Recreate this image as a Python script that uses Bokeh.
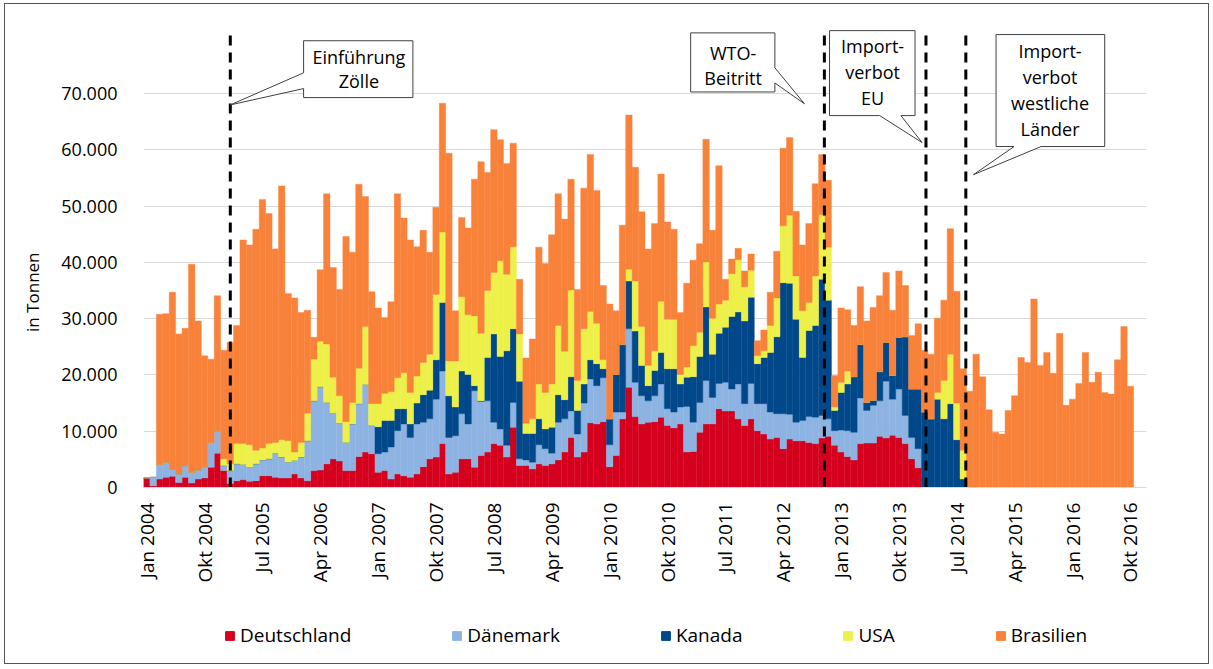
import math
from bokeh.plotting import figure
from bokeh.layouts import column
from bokeh.models import (Range1d, FixedTicker, Legend, LegendItem, ColumnDataSource)
from bokeh.core.properties import value
from bokeh.embed import file_html
from bokeh.resources import INLINE

FONT = "Open Sans"

# ---------------- data (thousand tonnes per month, Jan 2004 .. Okt 2016) ----------------
series_names = ["Deutschland", "Dänemark", "Kanada", "USA", "Brasilien"]
series_colors = ["#d5001e", "#8db3e2", "#00488a", "#eef04a", "#f9823a"]

deutschland = [
    1.7, 0.3, 1.5, 1.8, 2.0, 0.9, 1.8, 0.8, 1.5, 1.7,
    3.6, 6.1, 3.0, 0.7, 1.2, 1.4, 1.1, 1.2, 2.1, 2.1,
    1.8, 1.7, 1.7, 2.4, 1.7, 1.2, 3.0, 3.1, 4.2, 5.1,
    4.7, 3.0, 3.0, 5.5, 6.3, 6.0, 2.7, 3.0, 1.5, 2.4,
    2.1, 1.8, 2.4, 3.7, 5.1, 5.4, 7.8, 2.4, 2.7, 5.1,
    5.1, 3.6, 5.7, 6.3, 7.8, 7.5, 5.4, 10.7, 3.9, 3.9,
    3.3, 4.2, 3.9, 4.2, 4.9, 6.3, 8.9, 5.4, 6.3, 11.5,
    11.3, 11.7, 3.7, 5.7, 12.2, 17.8, 12.6, 11.3, 11.6, 11.7,
    12.5, 11.0, 10.6, 11.3, 6.3, 6.4, 9.8, 11.3, 11.3, 14.0,
    13.6, 13.6, 12.2, 11.0, 12.2, 10.1, 9.5, 8.6, 8.9, 6.9,
    8.6, 8.3, 8.3, 8.0, 7.8, 8.8, 9.1, 7.5, 6.3, 5.5,
    4.9, 7.8, 7.9, 7.9, 9.1, 8.8, 9.3, 8.9, 7.8, 5.1,
    3.5, 0, 0, 0, 0, 0, 0, 0, 0, 0,
    0, 0, 0, 0, 0, 0, 0, 0, 0, 0,
    0, 0, 0, 0, 0, 0, 0, 0, 0, 0,
    0, 0, 0, 0,
]
daenemark = [
    0, 1.5, 2.6, 2.7, 1.2, 1.5, 2.1, 1.9, 1.6, 2.0,
    4.4, 4.0, 0.9, 2.3, 3.0, 2.7, 2.5, 3.0, 2.8, 3.0,
    4.3, 3.7, 2.8, 2.4, 3.7, 7.1, 12.4, 14.8, 10.9, 8.1,
    6.7, 5.0, 8.3, 9.4, 12.0, 5.0, 3.3, 3.3, 5.7, 7.7,
    9.2, 7.1, 8.9, 7.9, 7.1, 10.3, 12.9, 6.5, 6.5, 8.0,
    6.2, 13.6, 9.6, 9.1, 3.8, 2.9, 2.1, 4.4, 1.2, 1.0,
    1.2, 3.4, 3.0, 1.9, 6.7, 5.9, 4.7, 4.1, 8.7, 7.8,
    6.8, 7.8, 3.9, 7.7, 1.2, 10.4, 6.1, 5.0, 3.8, 4.6,
    5.9, 3.0, 2.8, 3.0, 8.1, 5.2, 5.3, 7.7, 4.7, 4.5,
    5.1, 3.9, 6.2, 3.9, 6.3, 4.8, 5.4, 4.8, 4.2, 6.2,
    4.4, 3.3, 3.6, 4.6, 4.7, 4.0, 3.1, 2.6, 3.9, 4.6,
    4.9, 8.1, 5.8, 6.7, 6.3, 10.1, 6.4, 8.6, 5.0, 3.8,
    3.4, 0, 0, 0, 0, 0, 0, 0, 0, 0,
    0, 0, 0, 0, 0, 0, 0, 0, 0, 0,
    0, 0, 0, 0, 0, 0, 0, 0, 0, 0,
    0, 0, 0, 0,
]
kanada = [
    0, 0, 0, 0, 0, 0, 0, 0, 0, 0,
    0, 0, 0, 0, 0, 0, 0, 0, 0, 0,
    0, 0, 0, 0, 0, 0, 0, 0, 0, 0,
    0, 0, 0, 0, 0, 0, 4.8, 5.6, 4.7, 3.9,
    2.7, 2.4, 3.7, 4.9, 5.1, 7.0, 12.2, 7.4, 5.1, 7.6,
    8.8, 0.9, 0.1, 7.7, 15.7, 12.9, 16.8, 13.1, 13.8, 4.7,
    5.1, 4.6, 3.5, 4.6, 4.9, 3.4, 6.1, 4.2, 3.4, 3.4,
    3.9, 1.6, 4.6, 6.7, 12.0, 8.5, 9.1, 5.4, 2.7, 4.5,
    5.6, 7.1, 7.7, 4.1, 5.2, 8.1, 8.2, 13.1, 7.7, 8.9,
    9.8, 12.9, 12.8, 14.7, 15.3, 7.1, 8.2, 10.6, 13.7, 23.3,
    23.3, 18.3, 11.2, 15.3, 16.3, 24.2, 21.1, 3.6, 6.7, 8.3,
    9.9, 9.5, 1.4, 0.9, 5.2, 6.9, 4.2, 9.2, 14.0, 8.6,
    10.6, 13.4, 12.2, 15.7, 12.2, 14.9, 8.5, 1.5, 0, 0,
    0, 0, 0, 0, 0, 0, 0, 0, 0, 0,
    0, 0, 0, 0, 0, 0, 0, 0, 0, 0,
    0, 0, 0, 0,
]
usa = [
    0, 0, 0, 0, 0, 0, 0, 0, 0, 0,
    0, 0, 1.2, 1.2, 3.6, 3.7, 4.0, 2.4, 2.1, 2.7,
    1.9, 3.1, 3.8, 1.5, 2.6, 4.9, 7.4, 8.1, 10.4, 6.4,
    4.9, 3.7, 3.8, 6.3, 10.3, 3.9, 4.1, 4.8, 5.1, 5.5,
    6.4, 5.6, 4.8, 5.7, 6.4, 11.6, 12.5, 6.2, 8.2, 13.2,
    10.6, 12.4, 12.0, 11.9, 10.9, 17.0, 13.6, 14.6, 8.4, 1.8,
    2.6, 6.2, 6.5, 7.7, 12.3, 8.6, 15.4, 5.3, 9.8, 8.6,
    7.2, 1.6, 0, 0, 0, 2.1, 8.9, 6.9, 3.6, 3.5,
    9.1, 8.8, 8.8, 1.7, 1.8, 5.5, 4.3, 8.0, 6.4, 5.2,
    4.8, 7.6, 9.3, 6.1, 4.8, 1.4, 1.2, 4.8, 6.9, 10.1,
    12.1, 7.7, 8.3, 5.0, 8.8, 11.5, 9.4, 0.6, 1.8, 2.3,
    0, 0, 0, 0, 0, 0, 0, 0, 0, 0,
    0, 0, 0, 1.2, 6.8, 8.8, 6.5, 5.1, 0, 0,
    0, 0, 0, 0, 0, 0, 0, 0, 0, 0,
    0, 0, 0, 0, 0, 0, 0, 0, 0, 0,
    0, 0, 0, 0,
]
brasilien = [
    0, 0, 26.7, 26.4, 31.5, 24.9, 24.4, 37.0, 26.5, 19.7,
    14.8, 24.0, 19.3, 21.6, 21.0, 36.2, 35.5, 39.3, 44.2, 40.9,
    34.4, 45.1, 26.2, 27.4, 23.1, 18.3, 3.9, 12.7, 26.7, 19.5,
    18.9, 32.9, 26.7, 32.7, 23.1, 19.9, 17.0, 13.5, 16.0, 32.7,
    27.5, 27.1, 23.0, 23.5, 18.1, 15.5, 22.9, 36.9, 8.9, 14.1,
    15.4, 24.3, 30.5, 21.0, 25.4, 21.5, 19.7, 18.4, 9.7, 11.6,
    14.2, 24.3, 22.9, 26.5, 23.4, 23.5, 19.7, 16.2, 25.0, 27.9,
    23.6, 13.2, 20.4, 11.3, 21.2, 27.4, 20.2, 20.4, 20.7, 22.6,
    22.6, 17.3, 16.0, 11.0, 14.9, 15.2, 15.7, 21.8, 15.6, 24.6,
    3.7, 2.6, 2.0, 2.8, 2.9, 2.7, 3.7, 5.9, 8.3, 13.8,
    13.8, 11.5, 11.7, 14.0, 16.4, 10.7, 11.9, 5.6, 13.2, 10.9,
    9.1, 10.3, 14.5, 16.5, 13.5, 12.4, 11.6, 11.8, 9.1, 9.5,
    11.6, 11.0, 11.5, 13.2, 14.3, 22.3, 19.9, 14.5, 17.1, 23.7,
    19.7, 13.8, 9.8, 9.5, 13.7, 16.3, 23.1, 22.2, 33.5, 21.7,
    24.0, 20.3, 27.4, 14.6, 15.7, 18.5, 24.0, 18.7, 20.5, 16.9,
    16.6, 22.7, 28.6, 18.0,
]

tick_months = [0, 9, 18, 27, 36, 45, 54, 63, 72, 81, 90, 99, 108, 117, 126, 135, 144, 153]
tick_labels = ["Jan 2004", "Okt 2004", "Jul 2005", "Apr 2006", "Jan 2007", "Okt 2007",
               "Jul 2008", "Apr 2009", "Jan 2010", "Okt 2010", "Jul 2011", "Apr 2012",
               "Jan 2013", "Okt 2013", "Jul 2014", "Apr 2015", "Jan 2016", "Okt 2016"]
y_ticks = [0, 10000, 20000, 30000, 40000, 50000, 60000, 70000]
y_tick_labels = ["0", "10.000", "20.000", "30.000", "40.000", "50.000", "60.000", "70.000"]

# events (month index position of the dashed lines)
event_x = [13.0, 105.4, 121.2, 127.4]
event_top = [81500, 80800, 80800, 80800]

all_series = [deutschland, daenemark, kanada, usa, brasilien]
n = len(brasilien)
for s in all_series:
    assert len(s) == n, len(s)

data = {"x": list(range(n))}
for name, vals in zip(series_names, all_series):
    data[name] = [v * 1000 for v in vals]
src = ColumnDataSource(data)

W = 1203
H_MAIN = 610
H_LEG = 49

p = figure(width=W, height=H_MAIN,
           x_range=Range1d(-0.5, 155.5), y_range=Range1d(0, 83000),
           output_backend="svg", toolbar_location=None,
           min_border_left=138, min_border_right=62,
           min_border_top=16, min_border_bottom=127)
p.outline_line_color = None
p.background_fill_color = "white"
p.border_fill_color = "white"

rs = p.vbar_stack(series_names, x="x", width=1.0, source=src,
                  fill_color=series_colors, line_color=series_colors, line_width=0.4)

# grid
p.xgrid.visible = False
p.ygrid.ticker = FixedTicker(ticks=y_ticks[1:])
p.ygrid.grid_line_color = "#d9d9d9"
p.ygrid.grid_line_width = 1

# axes
p.yaxis.ticker = FixedTicker(ticks=y_ticks)
p.yaxis.major_label_overrides = {t: l for t, l in zip(y_ticks, y_tick_labels)}
p.yaxis.axis_line_color = None
p.yaxis.major_tick_line_color = None
p.yaxis.minor_tick_line_color = None
p.yaxis.major_label_standoff = 20
p.yaxis.major_label_text_font = FONT
p.yaxis.major_label_text_font_size = "18px"
p.yaxis.major_label_text_color = "black"
# trailing em spaces shift the visible title to the centre of the 0..70.000 span
p.yaxis.axis_label = "in Tonnen" + "\u2003\u2003\u2003\u2003\u2002"
p.yaxis.axis_label_standoff = 14
p.yaxis.axis_label_text_font = FONT
p.yaxis.axis_label_text_font_size = "17px"
p.yaxis.axis_label_text_font_style = "normal"
p.yaxis.axis_label_text_color = "black"

p.xaxis.ticker = FixedTicker(ticks=tick_months)
p.xaxis.major_label_overrides = {t: l for t, l in zip(tick_months, tick_labels)}
p.xaxis.major_label_orientation = math.pi / 2
p.xaxis.axis_line_color = "#d9d9d9"
p.xaxis.major_tick_line_color = None
p.xaxis.minor_tick_line_color = None
p.xaxis.major_label_standoff = 9
p.xaxis.major_label_text_font = FONT
p.xaxis.major_label_text_font_size = "19px"
p.xaxis.major_label_text_color = "black"

# dashed event lines
p.segment(x0=event_x, y0=[0] * 4, x1=event_x, y1=event_top,
          line_color="black", line_width=3, line_dash="10 7")

# callout boxes (data coordinates: month index, tonnes)
callouts_xs = [
    [24.4, 41.4, 41.4, 24.4, 24.4, 13.0, 24.4],
    [84.6, 97.7, 97.7, 102.3, 97.7, 97.7, 84.6],
    [106.2, 119.5, 119.5, 117.3, 120.6, 114.0, 106.2],
    [132.1, 149.0, 149.0, 139.1, 128.6, 134.9, 132.1],
]
callouts_ys = [
    [79400, 79400, 69300, 69300, 70900, 68000, 73700],
    [80800, 80800, 74600, 68200, 71900, 70300, 70300],
    [81200, 81200, 66100, 66100, 61300, 66100, 66100],
    [80500, 80500, 60600, 60600, 55600, 60600, 60600],
]
p.patches(xs=callouts_xs, ys=callouts_ys, fill_color="white",
          line_color="#404040", line_width=1)

cal_text = ["Einführung", "Zölle", "WTO-", "Beitritt", "Import-", "verbot", "EU",
            "Import-", "verbot", "westliche", "Länder"]
cal_x = [33.0, 33.0, 91.2, 91.2, 112.9, 112.9, 112.9, 140.5, 140.5, 140.5, 140.5]
cal_y = [76500, 72300, 77300, 72800, 78500, 73900, 69300, 77600, 73000, 68400, 63800]
p.text(x=cal_x, y=cal_y, text=cal_text, text_font=value(FONT),
       text_font_size="18px", text_align="center", text_baseline="middle",
       text_color="black")

# legend strip below the chart (its frame is aligned with the chart frame)
q = figure(width=W, height=H_LEG, x_range=Range1d(0, 1), y_range=Range1d(0, 1),
           output_backend="svg", toolbar_location=None,
           x_axis_type=None, y_axis_type=None,
           min_border_left=0, min_border_right=0, min_border_top=0, min_border_bottom=0)
q.outline_line_color = None
q.grid.visible = False
dummy = [q.vbar(x=[-10], top=[0], width=0.1, fill_color=c, line_color=c)
         for c in series_colors]
items = [LegendItem(label=nm, renderers=[r]) for nm, r in zip(series_names, dummy)]
legend = Legend(items=items, orientation="horizontal", location=(81, 15),
                spacing=100, glyph_width=11, glyph_height=11, label_standoff=5,
                padding=0, margin=0, border_line_color=None,
                background_fill_alpha=0,
                label_text_font=FONT, label_text_font_size="19px",
                label_text_color="black")
q.add_layout(legend, "center")

layout = column(p, q, spacing=0)
layout.styles = {"border": "1px solid #555555", "margin-left": "4px", "margin-top": "3px"}

open("out.html", "w").write(file_html(layout, INLINE))
